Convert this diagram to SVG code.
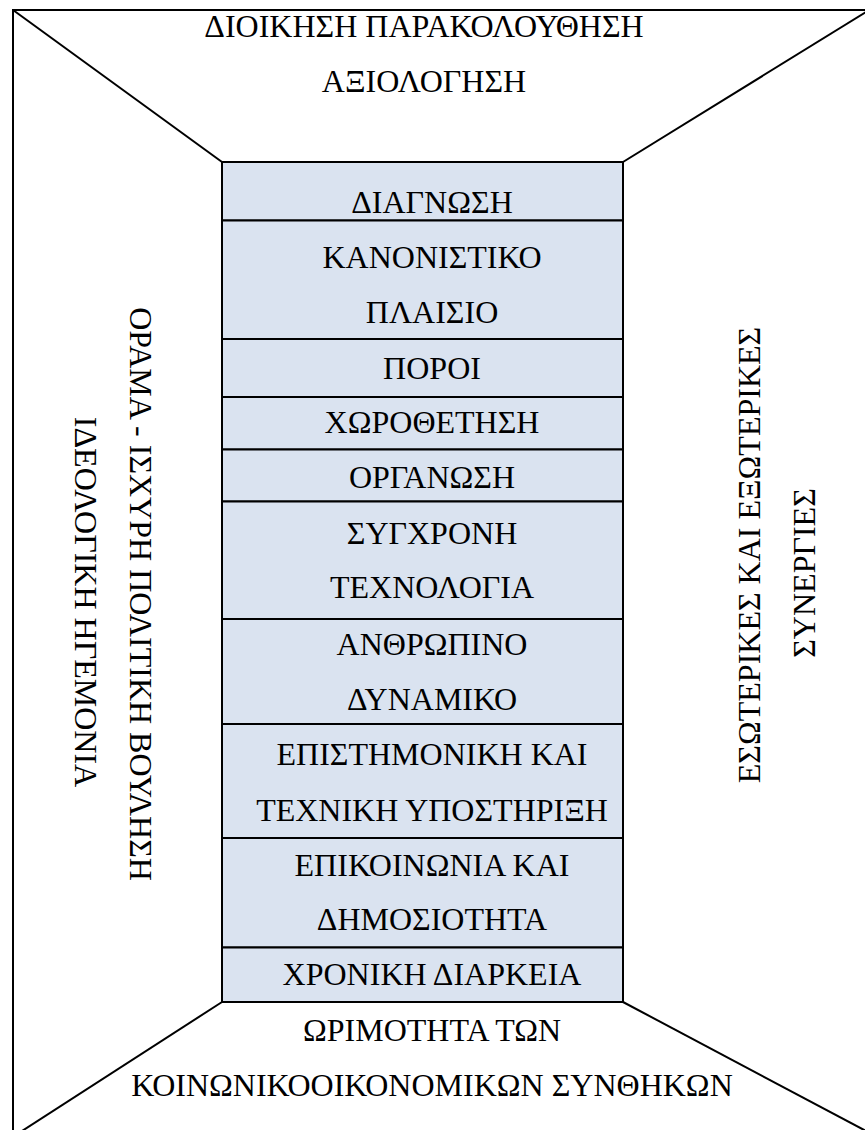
<svg xmlns="http://www.w3.org/2000/svg" width="865" height="1130" viewBox="0 0 865 1130">
<style>
.t{font-family:"Liberation Serif","Times New Roman",serif;font-size:32px;fill:#000;text-anchor:middle}
.ln{stroke:#000;stroke-width:2;fill:none}
.cell{fill:#DAE3F0;stroke:#000;stroke-width:2}
</style>
<rect x="0" y="0" width="865" height="1130" fill="#fff"/>
<g id="frame">
<path class="ln" d="M13,1130 V10 H865"/>
</g>
<g id="connectors">
<line class="ln" x1="13" y1="10" x2="222" y2="162"/>
<line class="ln" x1="623" y1="162" x2="866" y2="12"/>
<line class="ln" x1="222" y1="1002" x2="22" y2="1131"/>
<line class="ln" x1="623" y1="1002" x2="866" y2="1131"/>
</g>
<g id="top">
<text class="t" x="424" y="37">ΔΙΟΙΚΗΣΗ ΠΑΡΑΚΟΛΟΥΘΗΣΗ</text>
<text class="t" x="424" y="92">ΑΞΙΟΛΟΓΗΣΗ</text>
</g>
<g id="bottom">
<text class="t" x="432" y="1041">ΩΡΙΜΟΤΗΤΑ ΤΩΝ</text>
<text class="t" x="432" y="1096">ΚΟΙΝΩΝΙΚΟΟΙΚΟΝΟΜΙΚΩΝ ΣΥΝΘΗΚΩΝ</text>
</g>
<g id="left">
<text class="t" transform="translate(130,594) rotate(90)" x="0" y="0">ΟΡΑΜΑ - ΙΣΧΥΡΗ ΠΟΛΙΤΙΚΗ ΒΟΥΛΗΣΗ</text>
<text class="t" transform="translate(75,602) rotate(90)" x="0" y="0">ΙΔΕΟΛΟΓΙΚΗ ΗΓΕΜΟΝΙΑ</text>
</g>
<g id="right">
<text class="t" transform="translate(760,555) rotate(-90)" x="0" y="0">ΕΣΩΤΕΡΙΚΕΣ ΚΑΙ ΕΞΩΤΕΡΙΚΕΣ</text>
<text class="t" transform="translate(815,573) rotate(-90)" x="0" y="0">ΣΥΝΕΡΓΙΕΣ</text>
</g>
<g id="n1"><rect class="cell" x="222" y="162" width="401" height="58.5"/><text class="t" x="432" y="213">ΔΙΑΓΝΩΣΗ</text></g>
<g id="n2"><rect class="cell" x="222" y="220.5" width="401" height="118.5"/><text class="t" x="432" y="268">ΚΑΝΟΝΙΣΤΙΚΟ</text><text class="t" x="432" y="323">ΠΛΑΙΣΙΟ</text></g>
<g id="n3"><rect class="cell" x="222" y="339" width="401" height="58"/><text class="t" x="432" y="379">ΠΟΡΟΙ</text></g>
<g id="n4"><rect class="cell" x="222" y="397" width="401" height="52.5"/><text class="t" x="432" y="433">ΧΩΡΟΘΕΤΗΣΗ</text></g>
<g id="n5"><rect class="cell" x="222" y="449.5" width="401" height="52"/><text class="t" x="432" y="488">ΟΡΓΑΝΩΣΗ</text></g>
<g id="n6"><rect class="cell" x="222" y="501.5" width="401" height="117.5"/><text class="t" x="432" y="544">ΣΥΓΧΡΟΝΗ</text><text class="t" x="432" y="598">ΤΕΧΝΟΛΟΓΙΑ</text></g>
<g id="n7"><rect class="cell" x="222" y="619" width="401" height="105"/><text class="t" x="432" y="655">ΑΝΘΡΩΠΙΝΟ</text><text class="t" x="432" y="710">ΔΥΝΑΜΙΚΟ</text></g>
<g id="n8"><rect class="cell" x="222" y="724" width="401" height="114"/><text class="t" x="432" y="765">ΕΠΙΣΤΗΜΟΝΙΚΗ ΚΑΙ</text><text class="t" x="432" y="821">ΤΕΧΝΙΚΗ ΥΠΟΣΤΗΡΙΞΗ</text></g>
<g id="n9"><rect class="cell" x="222" y="838" width="401" height="109.5"/><text class="t" x="432" y="876">ΕΠΙΚΟΙΝΩΝΙΑ ΚΑΙ</text><text class="t" x="432" y="930">ΔΗΜΟΣΙΟΤΗΤΑ</text></g>
<g id="n10"><rect class="cell" x="222" y="947.5" width="401" height="54.5"/><text class="t" x="432" y="985">ΧΡΟΝΙΚΗ ΔΙΑΡΚΕΙΑ</text></g>
</svg>
